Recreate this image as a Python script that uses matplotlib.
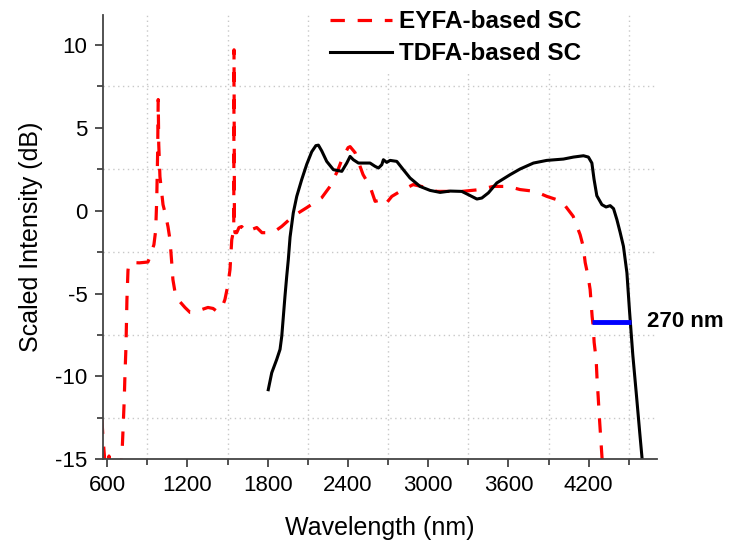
import numpy as np
import matplotlib.pyplot as plt
from matplotlib.ticker import MultipleLocator

plt.rcParams['font.family'] = ['Liberation Sans', 'DejaVu Sans']
plt.rcParams['axes.unicode_minus'] = False

# EYFA-based SC (red dashed)
eyfa_wl = [560, 566, 572, 578, 585, 600, 613, 625, 660, 700, 710, 716, 722, 727, 732,
           740, 747, 755, 762, 783, 840, 904, 919, 949, 962, 970, 977, 981, 985, 994,
           1017, 1032, 1054, 1069, 1082, 1091, 1106, 1144, 1181, 1219, 1241, 1294,
           1353, 1391, 1421, 1458, 1480, 1503, 1518, 1531, 1540, 1546, 1548, 1551,
           1555, 1568, 1585, 1605, 1638, 1680, 1718, 1757, 1830, 1862, 1905, 1989,
           2092, 2204, 2266, 2326, 2354, 2401, 2416, 2453, 2513, 2565, 2603, 2653,
           2670, 2690, 2728, 2790, 2887, 2989, 3064, 3164, 3251, 3388, 3485, 3598,
           3687, 3800, 3887, 3999, 4084, 4136, 4159, 4174, 4196, 4211, 4226, 4234,
           4241, 4256, 4263, 4271, 4278, 4286, 4299, 4310]
eyfa_db = [-12.6, -13.4, -14.1, -14.7, -15.5, -15.4, -14.8, -15.5, -15.8, -15.5, -14.7,
           -13.6, -12.4, -11.4, -10.0, -8.2, -5.4, -3.6, -3.2, -3.13, -3.15, -3.1,
           -2.8, -2.05, -1.2, 0.66, 3.6, 6.7, 4.0, 2.05, 0.36, -0.12, -0.96, -1.75,
           -3.13, -4.16, -4.88, -5.5, -5.84, -6.14, -6.14, -6.0, -5.84, -5.9, -6.08,
           -5.84, -5.36, -4.46, -3.55, -1.75, -1.39, -0.8, 9.7, -1.0, -1.33, -1.33,
           -1.02, -0.96, -1.27, -1.14, -1.02, -1.33, -1.33, -1.2, -0.95, -0.34, 0.18,
           0.78, 1.46, 2.47, 3.07, 3.8, 3.86, 3.5, 2.17, 1.46, 0.56, 0.66, 0.42, 0.48,
           0.86, 1.16, 1.57, 1.39, 1.16, 1.16, 1.16, 1.27, 1.46, 1.46, 1.27, 1.16,
           0.86, 0.56, -0.34, -1.45, -2.15, -3.13, -3.98, -4.76, -6.39, -7.0, -7.95,
           -8.98, -10.2, -11.2, -12.2, -13.2, -14.8, -16.0]

# TDFA-based SC (black solid)
tdfa_wl = [1804, 1830, 1867, 1892, 1905, 1917, 1929, 1942, 1954, 1967, 1991, 2017, 2054,
           2092, 2129, 2160, 2179, 2204, 2241, 2291, 2354, 2391, 2416, 2440, 2478,
           2565, 2603, 2628, 2653, 2665, 2690, 2715, 2765, 2814, 2864, 2939, 3014,
           3089, 3164, 3251, 3301, 3364, 3401, 3450, 3513, 3613, 3687, 3787, 3887,
           4011, 4086, 4161, 4198, 4224, 4240, 4261, 4299, 4330, 4361, 4386, 4411,
           4435, 4460, 4486, 4505, 4530, 4558, 4582, 4600, 4610]
tdfa_db = [-10.8, -9.78, -8.98, -8.37, -7.57, -6.37, -5.16, -3.96, -2.95, -1.6, -0.14,
           0.86, 1.87, 2.8, 3.55, 3.92, 3.95, 3.6, 2.97, 2.47, 2.37, 2.87, 3.27, 3.07,
           2.87, 2.87, 2.67, 2.57, 2.77, 3.07, 2.91, 3.03, 2.97, 2.47, 1.97, 1.46,
           1.22, 1.1, 1.18, 1.16, 0.96, 0.7, 0.76, 1.07, 1.67, 2.17, 2.51, 2.87, 3.03,
           3.11, 3.23, 3.31, 3.23, 2.87, 1.9, 0.9, 0.36, 0.22, 0.3, 0.12, -0.54, -1.3,
           -2.15, -3.75, -6.0, -8.7, -11.2, -13.4, -15.0, -16.0]

# 270 nm marker
gap_wl = [4228, 4516]
gap_db = [-6.7, -6.7]
gap_label = '270 nm'

fig = plt.figure(figsize=(7.3, 5.45), dpi=100)
ax = fig.add_axes([0.1407, 0.1572, 0.7593, 0.8153])

ax.plot(eyfa_wl, eyfa_db, color='red', lw=2.3, dashes=(4.5, 4), label='EYFA-based SC')
ax.plot(tdfa_wl, tdfa_db, color='black', lw=2.2, label='TDFA-based SC')
ax.plot(gap_wl, gap_db, color='blue', lw=3.5, solid_capstyle='butt')
ax.text(4637, gap_db[0], gap_label, fontsize=16, fontweight='bold',
        ha='left', va='center', clip_on=False)

ax.set_xlim(566, 4711)
ax.set_ylim(-15, 11.8)
ax.xaxis.set_major_locator(MultipleLocator(600))
ax.xaxis.set_minor_locator(MultipleLocator(300))
ax.yaxis.set_major_locator(MultipleLocator(5))
ax.yaxis.set_minor_locator(MultipleLocator(2.5))
ax.set_xticks(np.arange(600, 4201, 600))

for s in ['top', 'right']:
    ax.spines[s].set_visible(False)
for s in ['left', 'bottom']:
    ax.spines[s].set_color('#444444')
    ax.spines[s].set_linewidth(1.3)

ax.tick_params(which='major', direction='out', length=6, width=1.3, color='#444444',
               labelsize=16, pad=5)
ax.tick_params(which='minor', direction='out', length=4, width=1.3, color='#444444')
ax.grid(which='minor', color='#c8c8c8', linestyle=(0, (1, 2.5)), lw=1.0)
ax.grid(which='major', visible=False)

ax.set_xlabel('Wavelength (nm)', fontsize=18, labelpad=15)
ax.set_ylabel('Scaled Intensity (dB)', fontsize=18, labelpad=9)

leg = ax.legend(loc='upper left', bbox_to_anchor=(0.375, 1.054), frameon=True,
                facecolor='white', edgecolor='none', framealpha=1,
                prop={'size': 17.5, 'weight': 'bold'}, handlelength=2.55,
                handletextpad=0.3, labelspacing=0.36, borderpad=0.3)

plt.savefig('out.png')
